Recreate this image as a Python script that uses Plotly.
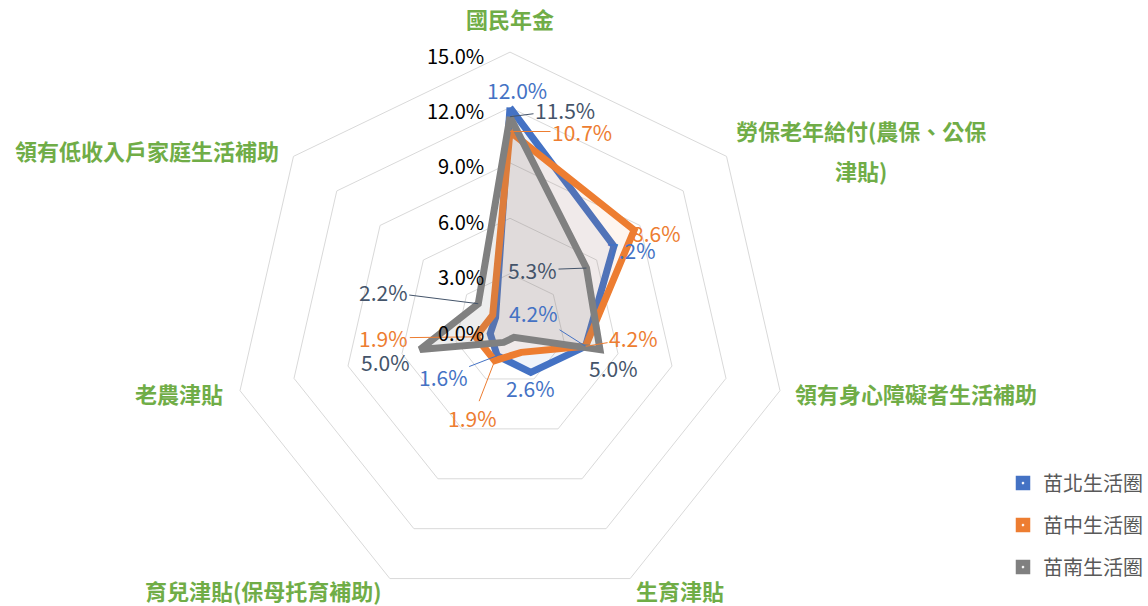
import math
import plotly.graph_objects as go

categories = ["國民年金", "勞保老年給付(農保、公保津貼)", "領有身心障礙者生活補助",
              "生育津貼", "育兒津貼(保母托育補助)", "老農津貼", "領有低收入戶家庭生活補助"]
series_names = ["苗北生活圈", "苗中生活圈", "苗南生活圈"]
north = [12.0, 7.2, 4.2, 2.6, 1.6, 1.1, 1.0]
central = [10.7, 8.6, 4.2, 1.4, 1.9, 1.9, 1.2]
south = [11.5, 5.3, 5.0, 0.5, 0.8, 5.0, 2.2]
tick_vals = [0, 3, 6, 9, 12, 15]

colors = ["#4472C4", "#ED7D31", "#808080"]
fills = ["rgba(68,114,196,0.08)", "rgba(237,125,49,0.08)", "rgba(128,128,128,0.14)"]
label_colors = ["#4472C4", "#ED7D31", "#44546A"]
FONT = "Noto Sans CJK TC"

W, H = 1148, 606
dom_x = [230 / W, 790 / W]
dom_y = [0.0, 0.914]

n = len(categories)

fig = go.Figure()
all_series = [north, central, south]
for name, vals, c, f in zip(series_names, all_series, colors, fills):
    fig.add_trace(go.Scatterpolar(
        r=vals + [vals[0]], theta=categories + [categories[0]], mode="lines",
        line=dict(color=c, width=7), fill="toself", fillcolor=f,
        name=name, showlegend=False, hoverinfo="skip"))
# legend entries
for name, c in zip(series_names, colors):
    fig.add_trace(go.Scatterpolar(
        r=[None], theta=[categories[0]], mode="markers", name=name, legendgroup=name,
        marker=dict(symbol="square-dot", size=16, color=c, line=dict(color="white", width=1.5))))

# geometry for label anchors (plotly centers the circle in the domain)
dw = (dom_x[1] - dom_x[0]) * W
dh = (dom_y[1] - dom_y[0]) * H
R = min(dw, dh) / 2
cx = (dom_x[0] + dom_x[1]) / 2 * W
cy = (1 - (dom_y[0] + dom_y[1]) / 2) * H
RMAX = 15.0


def to_paper(r, idx):
    a = math.radians(90 - idx * 360 / n)
    px = cx + r / RMAX * R * math.cos(a)
    py = cy - r / RMAX * R * math.sin(a)
    return px / W, 1 - py / H


# data labels: (series index, category index, dx, dy, leader)
labels = [
    (0, 0, 7, -18, False), (0, 1, 18, 4, False), (0, 2, -52, -33, True),
    (0, 3, 0, 16, False), (0, 4, -54, 21, True),
    (1, 0, 72, 0, True), (1, 1, 22, 3, False), (1, 2, 48, -8, True),
    (1, 4, -22, 57, True), (1, 5, -92, 1, True),
    (2, 0, 55, -7, True), (2, 1, -54, 2, True), (2, 2, 14, 18, False),
    (2, 5, -35, 12, False), (2, 6, -95, -12, True),
]
for si, ci, dx, dy, leader in labels:
    v = all_series[si][ci]
    x, y = to_paper(v, ci)
    col = label_colors[si]
    fig.add_annotation(x=x, y=y, xref="paper", yref="paper", text=f"{v:.1f}%",
                       showarrow=True, ax=dx, ay=dy, arrowhead=0,
                       arrowwidth=1 if leader else 0.1,
                       arrowcolor=col if leader else "rgba(0,0,0,0)", standoff=0,
                       font=dict(family=FONT, size=21, color=col))

# radial tick labels, right-aligned left of the top axis
for t in tick_vals:
    x, y = to_paper(t, 0)
    fig.add_annotation(x=x, y=y, xref="paper", yref="paper", text=f"{t:.1f}%",
                       showarrow=False, xanchor="right", yanchor="middle",
                       xshift=-24, yshift=-3,
                       font=dict(family=FONT, size=20, color="#000000"))

# category labels: (category index, text lines, xanchor, dx, dy)
cat_layout = [
    (0, ["國民年金"], "center", 0, -34),
    (1, ["勞保老年給付(農保、公保", "津貼)"], "center", 134, -26),
    (2, ["領有身心障礙者生活補助"], "left", 13, 2),
    (3, ["生育津貼"], "left", 4, 11),
    (4, ["育兒津貼(保母托育補助)"], "right", -6, 11),
    (5, ["老農津貼"], "right", -15, 2),
    (6, ["領有低收入戶家庭生活補助"], "right", -12, -6),
]
for ci, lines, xa, dx, dy in cat_layout:
    x, y = to_paper(RMAX, ci)
    for li, line in enumerate(lines):
        fig.add_annotation(x=x, y=y, xref="paper", yref="paper", text=f"<b>{line}</b>",
                           showarrow=False, xanchor=xa, yanchor="middle", xshift=dx,
                           yshift=-(dy + 40 * li),
                           font=dict(family=FONT, size=22, color="#70AD47"))

fig.update_layout(
    width=W, height=H,
    margin=dict(l=0, r=0, t=0, b=0),
    paper_bgcolor="white",
    font=dict(family=FONT),
    polar=dict(
        domain=dict(x=dom_x, y=dom_y),
        bgcolor="white",
        gridshape="linear",
        radialaxis=dict(range=[0, RMAX], tickvals=tick_vals, showticklabels=False,
                        angle=90, showline=False, ticks="", gridcolor="#D9D9D9", gridwidth=1),
        angularaxis=dict(type="category", categoryarray=categories,
                         direction="clockwise", rotation=90, showticklabels=False,
                         showgrid=False, showline=True, linecolor="#D9D9D9", linewidth=1,
                         ticks=""),
    ),
    legend=dict(x=0.874, y=0.235, xanchor="left", yanchor="top",
                font=dict(family=FONT, size=20, color="#595959"),
                itemsizing="trace", tracegroupgap=13, itemwidth=30),
    showlegend=True,
)

fig.write_html("out.html", config={"displayModeBar": False},
               post_script="document.body.style.margin='0';document.body.style.overflow='hidden';")
